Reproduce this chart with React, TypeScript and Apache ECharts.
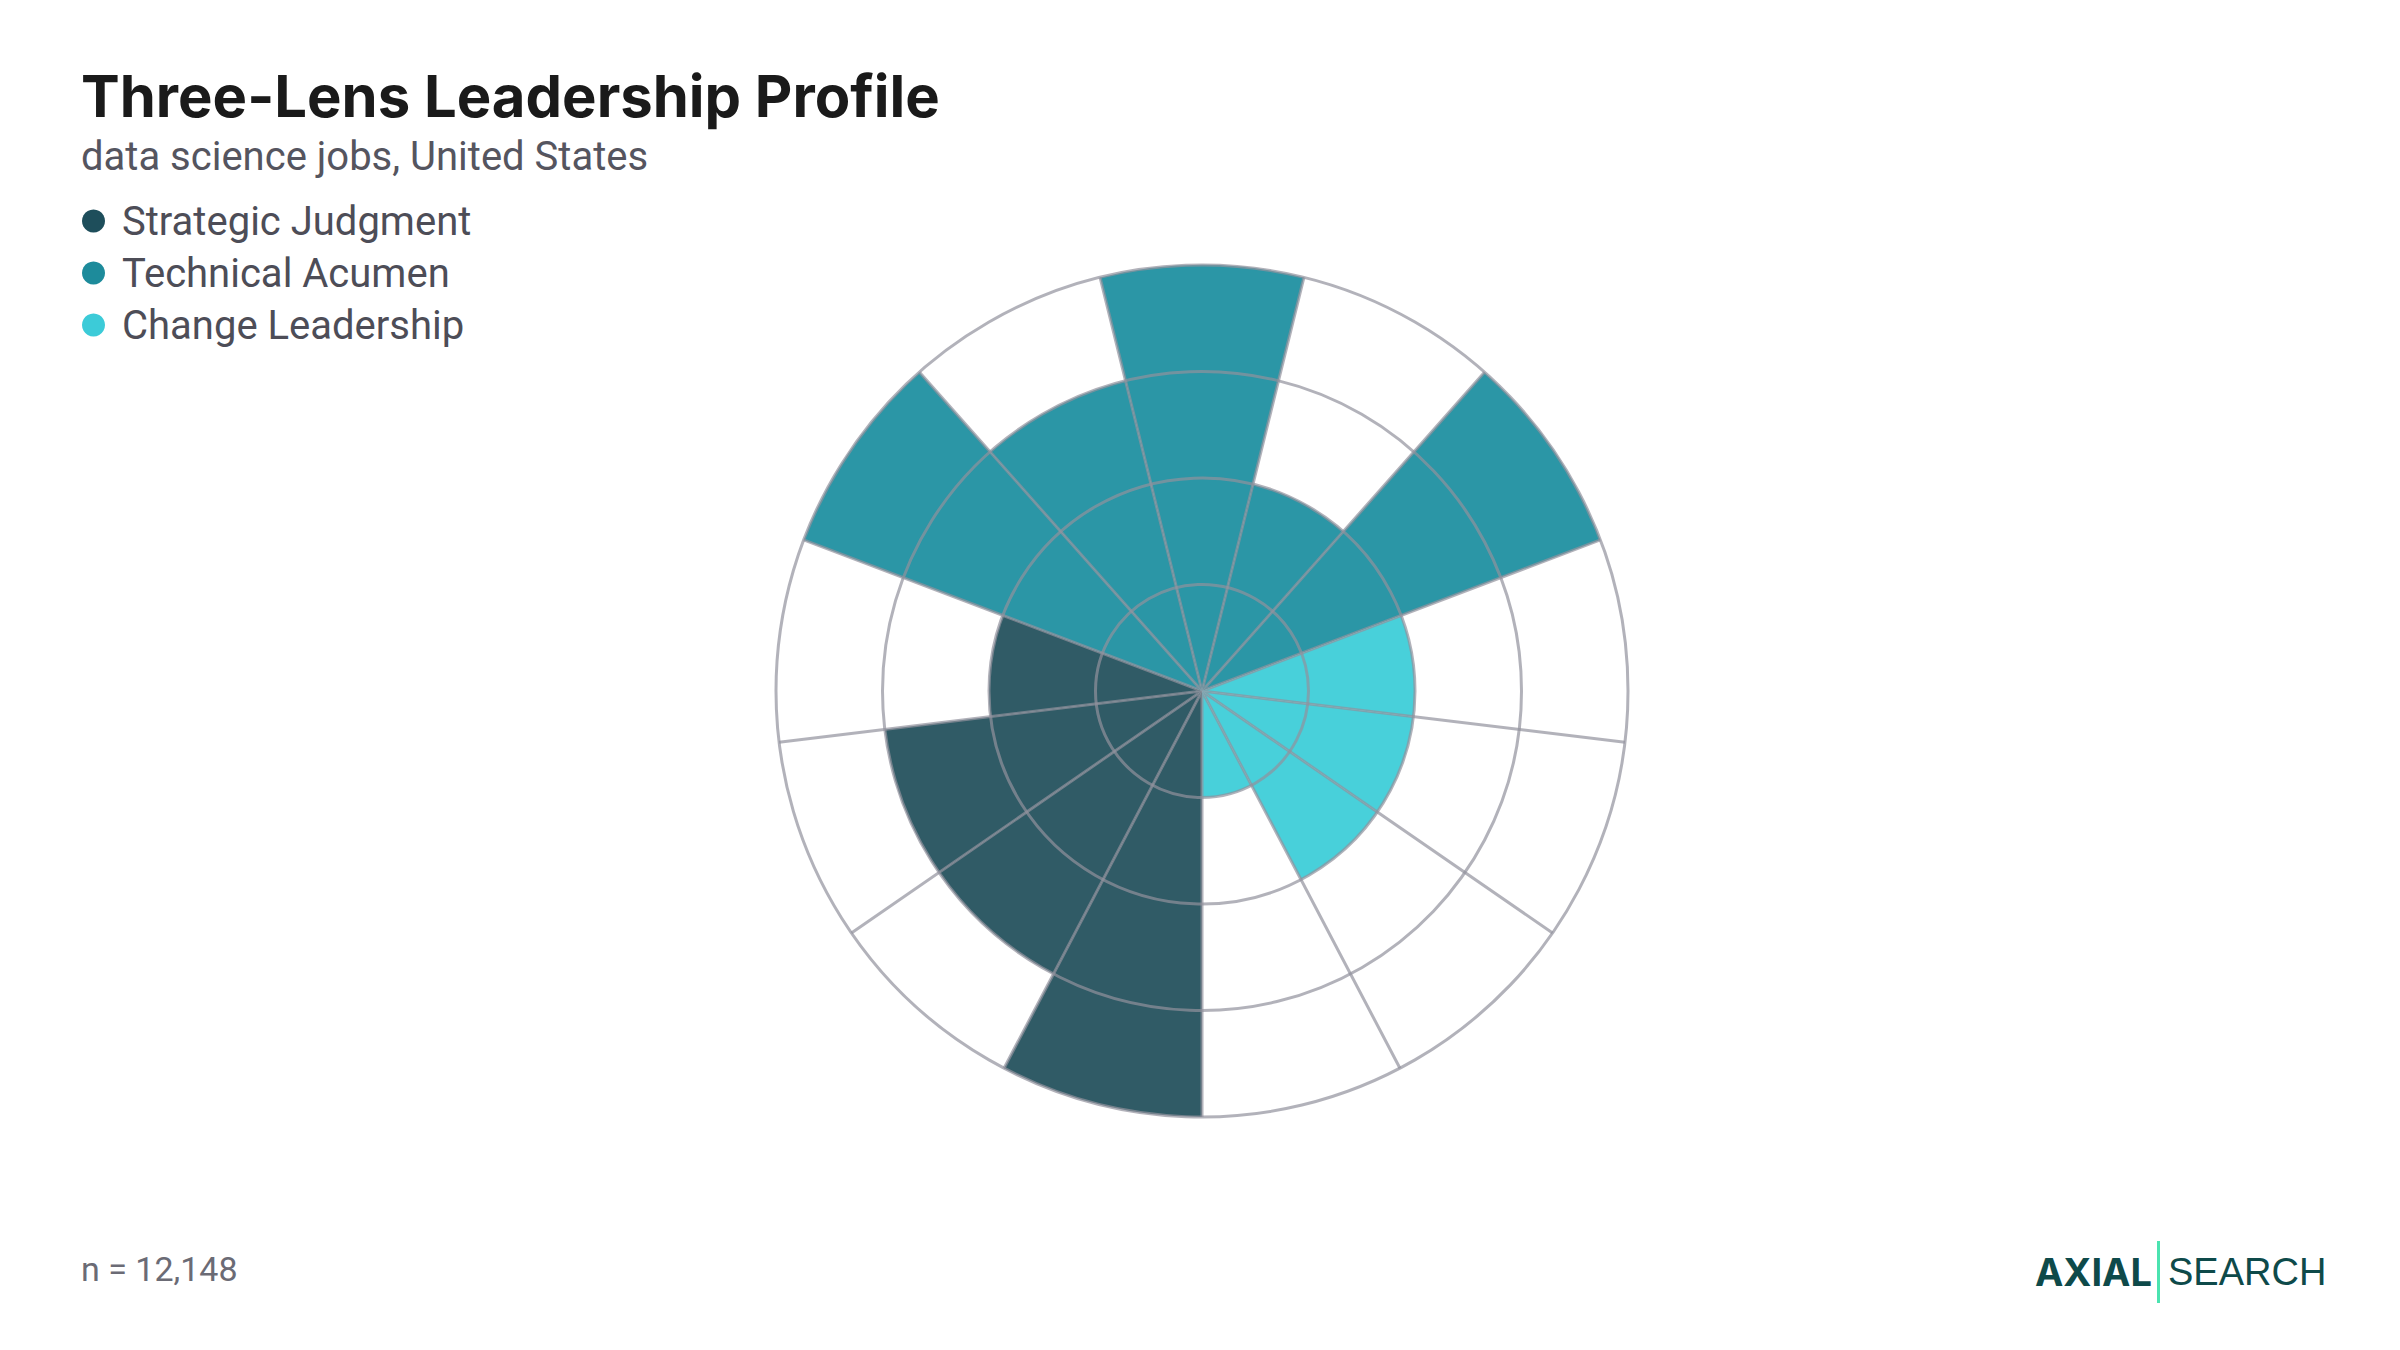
import React, { useEffect, useRef } from "react";
import * as echarts from "echarts";

// ---- data ----
const categories = [
  "Vision & Direction",
  "Prioritization",
  "Business Acumen",
  "Decision Quality",
  "Machine Learning",
  "Statistics",
  "Programming",
  "Data Engineering",
  "Experimentation",
  "Change Advocacy",
  "Stakeholder Alignment",
  "Coaching",
  "Resilience",
];
const seriesNames = ["Strategic Judgment", "Technical Acumen", "Change Leadership"];
const strategicValues = [4, 3, 3, 2, null, null, null, null, null, null, null, null, null];
const technicalValues = [null, null, null, null, 4, 3, 4, 2, 4, null, null, null, null];
const changeValues = [null, null, null, null, null, null, null, null, null, 2, 2, 2, 1];
const radiusMax = 4;
const radiusInterval = 1;
const titleText = "Three-Lens Leadership Profile";
const subtitleText = "data science jobs, United States";
const sampleText = "n = 12,148";

// ---- styles ----
const barColors = ["#305b66", "#2b96a6", "#48d0da"];
const legendColors = ["#1e4e5b", "#1d8b9b", "#3ccbd8"];
const gridColor = "rgba(146,146,156,0.7)";

export default function App() {
  const ref = useRef<HTMLDivElement>(null);
  useEffect(() => {
    if (!ref.current) return;
    const chart = echarts.init(ref.current, undefined, { renderer: "svg" });
    const values = [strategicValues, technicalValues, changeValues];
    const option: any = {
      animation: false,
      backgroundColor: "#ffffff",
      polar: { center: [1202, 691], radius: 426 },
      angleAxis: {
        type: "category",
        data: categories,
        startAngle: 270,
        clockwise: true,
        z: 5,
        axisLine: { show: false },
        axisTick: { show: false },
        axisLabel: { show: false },
        splitLine: { show: true, lineStyle: { color: gridColor, width: 3 } },
      },
      radiusAxis: {
        type: "value",
        min: 0,
        max: radiusMax,
        interval: radiusInterval,
        z: 5,
        axisLine: { show: false },
        axisTick: { show: false },
        axisLabel: { show: false },
        splitLine: { show: true, lineStyle: { color: gridColor, width: 3 } },
      },
      legend: {
        orient: "vertical",
        left: 77,
        top: 196,
        icon: "circle",
        itemWidth: 23,
        itemHeight: 23,
        itemGap: 12,
        selectedMode: false,
        textStyle: {
          fontFamily: "Roboto",
          fontSize: 40,
          color: "#4d4d57",
          lineHeight: 40,
          padding: [0, 0, 0, 12],
        },
        data: seriesNames.map((n, i) => ({ name: n, itemStyle: { color: legendColors[i] } })),
      },
      series: seriesNames.map((n, i) => ({
        name: n,
        type: "bar",
        coordinateSystem: "polar",
        stack: "all",
        barCategoryGap: "0%",
        itemStyle: { color: barColors[i] },
        data: values[i].map((v) => (v === null ? "-" : v)),
      })),
      graphic: [
        {
          type: "text",
          x: 81,
          y: 96,
          style: {
            text: titleText,
            fontFamily: "Inter",
            fontWeight: 700,
            fontSize: 58,
            fill: "#1a1a1a",
            verticalAlign: "middle",
          },
        },
        {
          type: "text",
          x: 81,
          y: 156,
          style: {
            text: subtitleText,
            fontFamily: "Roboto",
            fontSize: 40,
            fill: "#55555f",
            verticalAlign: "middle",
          },
        },
        {
          type: "text",
          x: 81,
          y: 1269,
          style: {
            text: sampleText,
            fontFamily: "Roboto",
            fontSize: 34,
            fill: "#6b6b75",
            verticalAlign: "middle",
          },
        },
        {
          type: "text",
          x: 2035,
          y: 1272,
          style: {
            text: "AXIAL",
            fontFamily: "Inter",
            fontWeight: 700,
            fontSize: 38,
            fill: "#0e4a4a",
            verticalAlign: "middle",
          },
        },
        {
          type: "rect",
          shape: { x: 2157, y: 1241, width: 3, height: 62 },
          style: { fill: "#4be3b0" },
        },
        {
          type: "text",
          x: 2168,
          y: 1272,
          style: {
            text: "SEARCH",
            fontFamily: "Liberation Sans",
            fontSize: 38,
            fill: "#0e4a4a",
            verticalAlign: "middle",
          },
        },
      ],
    };
    chart.setOption(option);
    return () => chart.dispose();
  }, []);
  return (
    <div
      ref={ref}
      style={{ position: "absolute", left: 0, top: 0, width: 2400, height: 1350 }}
    />
  );
}
